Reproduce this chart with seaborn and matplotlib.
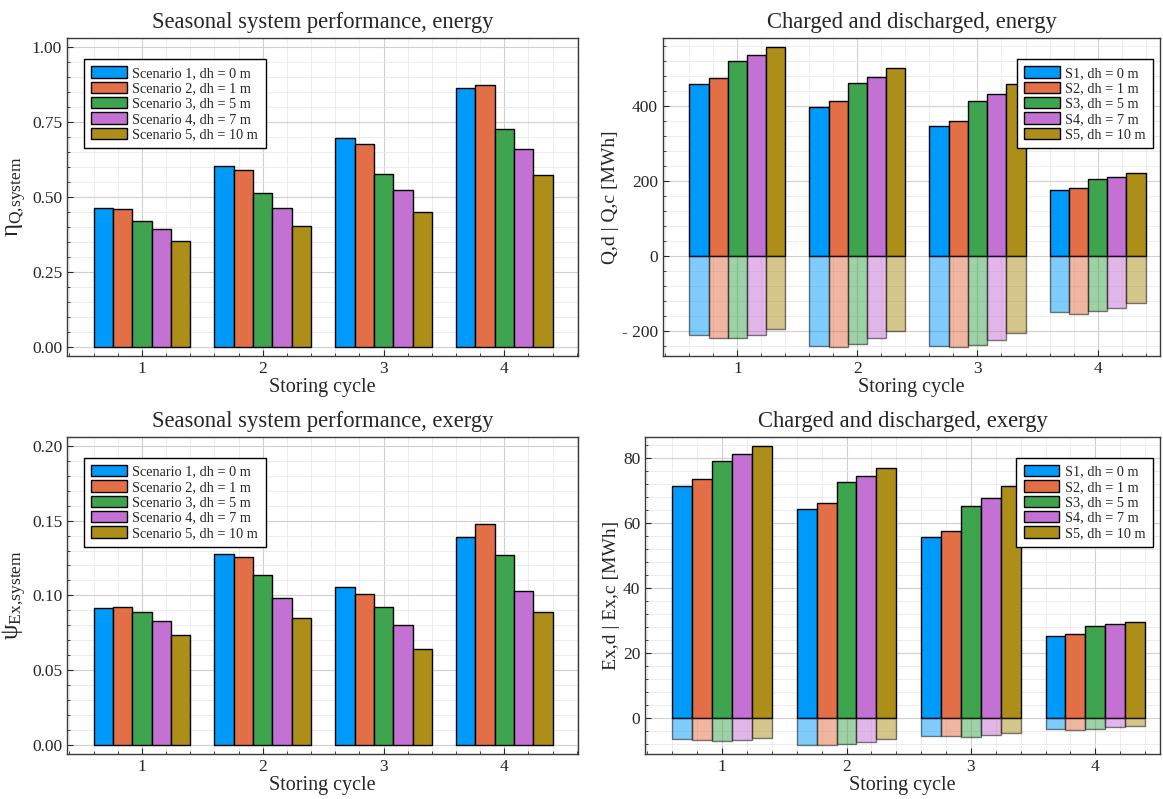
import numpy as np
import pandas as pd
import matplotlib
matplotlib.use('Agg')
import matplotlib.pyplot as plt
import seaborn as sns
from matplotlib.patches import Patch
from matplotlib.ticker import MultipleLocator, FuncFormatter

# Storing cycles and scenario names
cycles = ['1', '2', '3', '4']
names_long = ['Scenario 1, dh = 0 m', 'Scenario 2, dh = 1 m', 'Scenario 3, dh = 5 m',
              'Scenario 4, dh = 7 m', 'Scenario 5, dh = 10 m']
names_short = ['S1, dh = 0 m', 'S2, dh = 1 m', 'S3, dh = 5 m', 'S4, dh = 7 m', 'S5, dh = 10 m']
colors = ['#009AFA', '#E36F47', '#3EA44E', '#C371D2', '#AC8E18']

# Seasonal system performance (rows = scenarios, columns = cycles)
eta_q = [[0.463, 0.605, 0.697, 0.862],
         [0.460, 0.590, 0.677, 0.872],
         [0.420, 0.512, 0.578, 0.727],
         [0.393, 0.462, 0.522, 0.660],
         [0.353, 0.403, 0.450, 0.573]]
psi_ex = [[0.0915, 0.128, 0.1055, 0.139],
          [0.0925, 0.126, 0.101, 0.1475],
          [0.089, 0.1135, 0.092, 0.127],
          [0.083, 0.098, 0.0805, 0.103],
          [0.0735, 0.0848, 0.0645, 0.0888]]

# Charged (positive) and discharged (negative) energy [MWh]
q_charged = [[457, 396, 345, 174],
             [474, 412, 359, 180],
             [519, 460, 412, 204],
             [535, 477, 432, 210],
             [556, 500, 458, 220]]
q_discharged = [[-212, -240, -241, -151],
                [-219, -244, -244, -156],
                [-219, -236, -238, -148],
                [-212, -220, -226, -139],
                [-197, -201, -206, -126]]

# Charged and discharged exergy [MWh]
ex_charged = [[71.5, 64.4, 55.7, 25.1],
              [73.5, 66.3, 57.6, 25.8],
              [79.3, 72.6, 65.2, 28.2],
              [81.3, 74.6, 67.9, 28.9],
              [83.8, 77.0, 71.4, 29.7]]
ex_discharged = [[-6.5, -8.2, -5.7, -3.4],
                 [-6.8, -8.3, -5.7, -3.7],
                 [-7.0, -8.1, -5.8, -3.5],
                 [-6.7, -7.3, -5.3, -2.9],
                 [-6.1, -6.5, -4.6, -2.5]]


def to_long(values, names):
    rows = []
    for name, vals in zip(names, values):
        for c, v in zip(cycles, vals):
            rows.append({'cycle': c, 'scenario': name, 'value': v})
    return pd.DataFrame(rows)


def bars(ax, values, names, alpha=1.0):
    df = to_long(values, names)
    sns.barplot(data=df, x='cycle', y='value', hue='scenario', order=cycles,
                hue_order=names, palette=colors, saturation=1, errorbar=None,
                edgecolor='black', linewidth=1.0, alpha=alpha, legend=False, ax=ax)


def style(ax, title, ylabel, ylsize, ystep, xlim, ylim, fmt, names, loc, anchor):
    ax.set_xlim(xlim)
    ax.set_ylim(ylim)
    ax.yaxis.set_major_locator(MultipleLocator(ystep))
    ax.yaxis.set_minor_locator(MultipleLocator(ystep / 5))
    ax.xaxis.set_minor_locator(MultipleLocator(0.2))
    ax.yaxis.set_major_formatter(FuncFormatter(fmt))
    ax.grid(which='major', axis='both', color='#cfcfcf', lw=0.8)
    ax.grid(which='minor', axis='both', color='#e9e9e9', lw=0.6)
    ax.set_axisbelow(True)
    ax.tick_params(which='both', direction='in', top=False, right=False, labelsize=12.5)
    ax.tick_params(which='major', length=4, width=0.8)
    ax.tick_params(which='minor', length=2, width=0.6)
    for s in ax.spines.values():
        s.set_color('#3a3a3a')
        s.set_linewidth(1.0)
    ax.set_title(title, fontsize=16.3, pad=7)
    ax.set_xlabel('Storing cycle', fontsize=14.5, labelpad=1)
    ax.set_ylabel(ylabel, fontsize=ylsize, labelpad=2)
    handles = [Patch(facecolor=c, edgecolor='black', lw=1.0) for c in colors]
    ax.legend(handles, names, loc=loc, bbox_to_anchor=anchor, borderaxespad=0,
              fontsize=10.3, fancybox=False, framealpha=1, edgecolor='black',
              handlelength=2.5, handleheight=0.85, handletextpad=0.4,
              labelspacing=0.12, borderpad=0.5)


sns.set_style('ticks')
plt.rcParams['font.family'] = ['Liberation Serif', 'DejaVu Serif']
plt.rcParams['mathtext.fontset'] = 'stix'

fig = plt.figure(figsize=(11.63, 7.99), dpi=100)
ax_tl = fig.add_axes([0.0576, 0.5544, 0.4394, 0.398])
ax_tr = fig.add_axes([0.570, 0.5544, 0.4274, 0.398])
ax_bl = fig.add_axes([0.0576, 0.0563, 0.4394, 0.397])
ax_br = fig.add_axes([0.5546, 0.0563, 0.4428, 0.397])

fmt2 = lambda v, p: '%.2f' % v
fmt_int = lambda v, p: ('- %d' % -v) if v < 0 else '%d' % v

bars(ax_tl, eta_q, names_long)
style(ax_tl, 'Seasonal system performance, energy', r'$\mathregular{\eta_{Q{,}system}}$', 18,
      0.25, (-0.62, 3.61), (-0.03, 1.03), fmt2, names_long, 'upper left', (0.033, 0.934))

bars(ax_tr, q_charged, names_short)
bars(ax_tr, q_discharged, names_short, alpha=0.5)
style(ax_tr, 'Charged and discharged, energy', 'Q,d | Q,c [MWh]', 14,
      200, (-0.62, 3.52), (-268, 581), fmt_int, names_short, 'upper right', (0.986, 0.934))

bars(ax_bl, psi_ex, names_long)
style(ax_bl, 'Seasonal system performance, exergy', r'$\mathregular{\psi_{Ex{,}system}}$', 18,
      0.05, (-0.62, 3.61), (-0.006, 0.206), fmt2, names_long, 'upper left', (0.033, 0.934))

bars(ax_br, ex_charged, names_short)
bars(ax_br, ex_discharged, names_short, alpha=0.5)
style(ax_br, 'Charged and discharged, exergy', 'Ex,d | Ex,c [MWh]', 14,
      20, (-0.62, 3.52), (-11.1, 86.6), fmt_int, names_short, 'upper right', (0.986, 0.934))

fig.savefig('out.png', dpi=100)
